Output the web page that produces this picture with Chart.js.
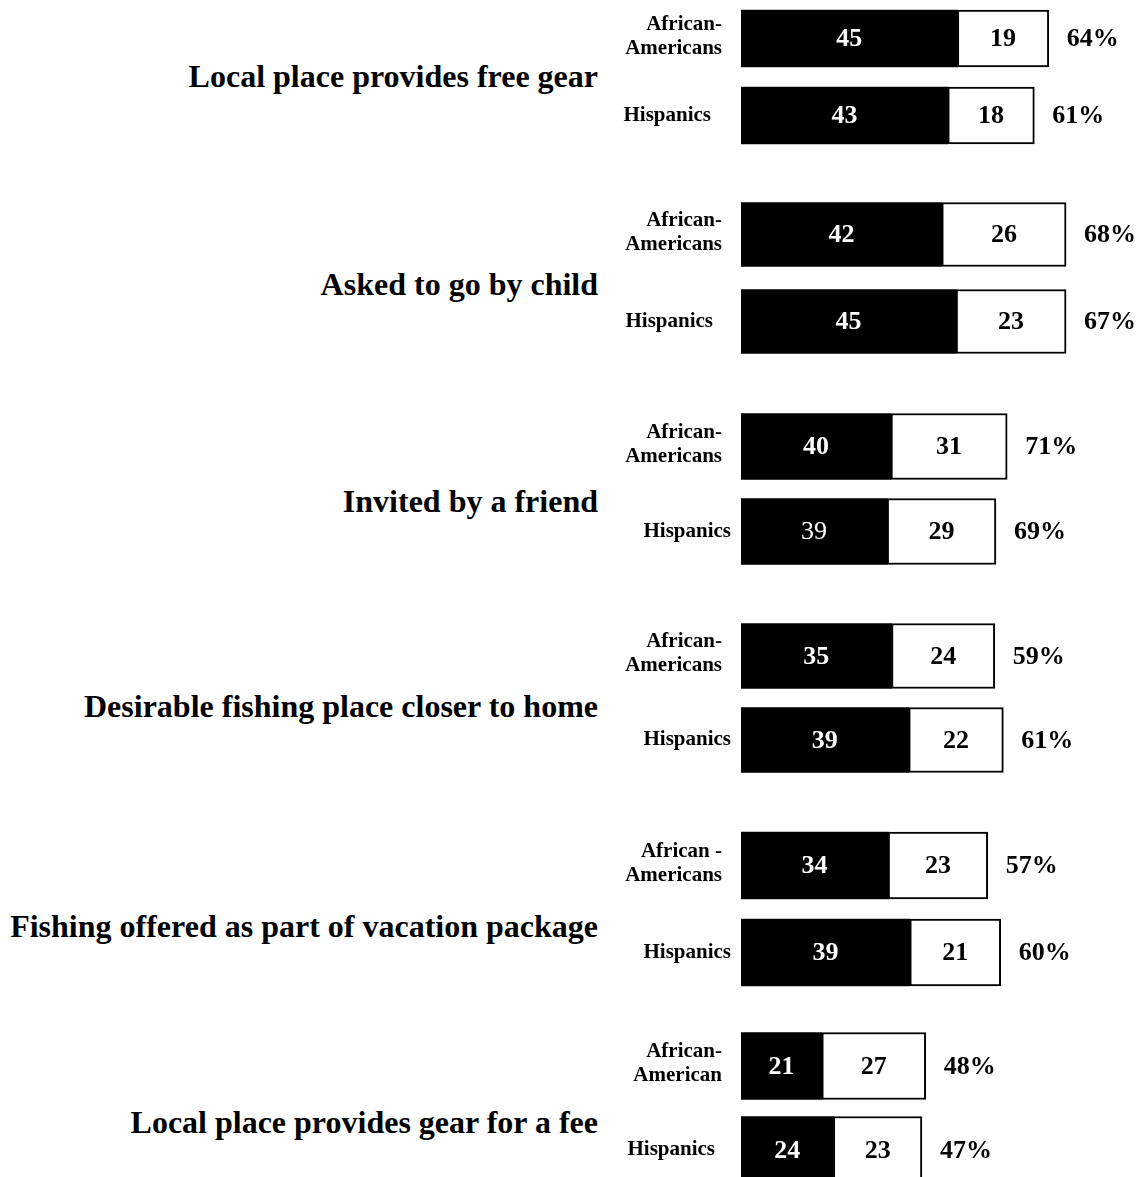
<!DOCTYPE html>
<html>
<head>
<meta charset="utf-8">
<script src="https://cdn.jsdelivr.net/npm/chart.js@4.4.1/dist/chart.umd.min.js"></script>
<style>
  html, body { margin: 0; padding: 0; background: #fff; overflow: hidden; }
  body { width: 1144px; height: 1177px; position: relative; font-family: "Liberation Serif", "Times New Roman", serif; }
  .title { position: absolute; left: 0; width: 598px; text-align: right; font-weight: bold; font-size: 32px; line-height: 36px; white-space: nowrap; color: #000; }
  .box { position: absolute; left: 600px; width: 544px; }
</style>
</head>
<body>
<script>
// group titles and the two bars in each group
const groups = [
  "Local place provides free gear",
  "Asked to go by child",
  "Invited by a friend",
  "Desirable fishing place closer to home",
  "Fishing offered as part of vacation package",
  "Local place provides gear for a fee"
];
const subgroups = [
  [["African-", "Americans"], ["Hispanics"]],
  [["African-", "Americans"], ["Hispanics"]],
  [["African-", "Americans"], ["Hispanics"]],
  [["African-", "Americans"], ["Hispanics"]],
  [["African -", "Americans"], ["Hispanics"]],
  [["African-", "American"], ["Hispanics"]]
];
const blackValues = [[45, 43], [42, 45], [40, 39], [35, 39], [34, 39], [21, 24]];
const whiteValues = [[19, 18], [26, 23], [31, 29], [24, 22], [23, 21], [27, 23]];
const totals = [[64, 61], [68, 67], [71, 69], [59, 61], [57, 60], [48, 47]];

// layout (pixels / scale settings per group)
const rowTop = [0, 191, 404, 614, 822, 1024];
const rowHeight = [154, 174, 170, 168, 174, 168];
const barSize = [57, 64, 66, 65, 67, 67];
const axisMax = [83.8, 84.3, 107.5, 93.7, 93.1, 104.7];
const titleMid = [76, 284, 501, 706, 926, 1122];
const totalGap = 18;
const hispGap = [30, 28, 10, 10, 10, 26];
const plainLabel = "2-1"; // the "39" that is not bold

const serif = "'Liberation Serif', 'Times New Roman', serif";

function textPlugin(g) {
  return {
    id: "barText" + g,
    afterDatasetsDraw(chart) {
      const ctx = chart.ctx;
      const left = chart.chartArea.left;
      ctx.save();
      ctx.textBaseline = "middle";
      chart.data.datasets.forEach((ds, i) => {
        chart.getDatasetMeta(i).data.forEach((el, j) => {
          const weight = (g + "-" + j) === plainLabel && i === 0 ? "normal" : "bold";
          ctx.font = weight + " 26px " + serif;
          ctx.fillStyle = i === 0 ? "#fff" : "#000";
          ctx.textAlign = "center";
          ctx.fillText(String(ds.data[j]), (el.x + el.base) / 2, el.y + 1);
          if (i === 1) {
            ctx.font = "bold 26px " + serif;
            ctx.fillStyle = "#000";
            ctx.textAlign = "left";
            ctx.fillText(totals[g][j] + "%", el.x + totalGap, el.y + 1);
          }
        });
      });
      // row labels left of the bars
      ctx.font = "bold 21px " + serif;
      ctx.fillStyle = "#000";
      ctx.textAlign = "right";
      chart.data.labels.forEach((lines, j) => {
        const el = chart.getDatasetMeta(0).data[j];
        const gap = j === 0 ? 19 : hispGap[g];
        const lh = 24;
        const y0 = el.y - (lines.length - 1) * lh / 2 - (lines.length > 1 ? 2 : 0);
        lines.forEach((line, k) => ctx.fillText(line, left - gap, y0 + k * lh));
      });
      ctx.restore();
    }
  };
}

groups.forEach((name, g) => {
  const title = document.createElement("div");
  title.className = "title";
  title.style.top = (titleMid[g] - 18) + "px";
  title.textContent = name;
  document.body.appendChild(title);

  const box = document.createElement("div");
  box.className = "box";
  box.style.top = rowTop[g] + "px";
  box.style.height = rowHeight[g] + "px";
  const canvas = document.createElement("canvas");
  canvas.width = 544;
  canvas.height = rowHeight[g];
  box.appendChild(canvas);
  document.body.appendChild(box);

  new Chart(canvas, {
    type: "bar",
    data: {
      labels: subgroups[g],
      datasets: [
        {
          data: blackValues[g],
          backgroundColor: "#000",
          borderColor: "#000",
          borderWidth: 0,
          barThickness: barSize[g]
        },
        {
          data: whiteValues[g],
          backgroundColor: "#fff",
          borderColor: "#000",
          borderWidth: 2,
          borderSkipped: false,
          barThickness: barSize[g]
        }
      ]
    },
    options: {
      indexAxis: "y",
      responsive: false,
      animation: false,
      layout: { padding: { left: 141, right: 0, top: 0, bottom: 0 } },
      plugins: {
        legend: { display: false },
        tooltip: { enabled: false }
      },
      scales: {
        x: { stacked: true, min: 0, max: axisMax[g], display: false },
        y: { stacked: true, display: false }
      }
    },
    plugins: [textPlugin(g)]
  });
});
</script>
</body>
</html>
